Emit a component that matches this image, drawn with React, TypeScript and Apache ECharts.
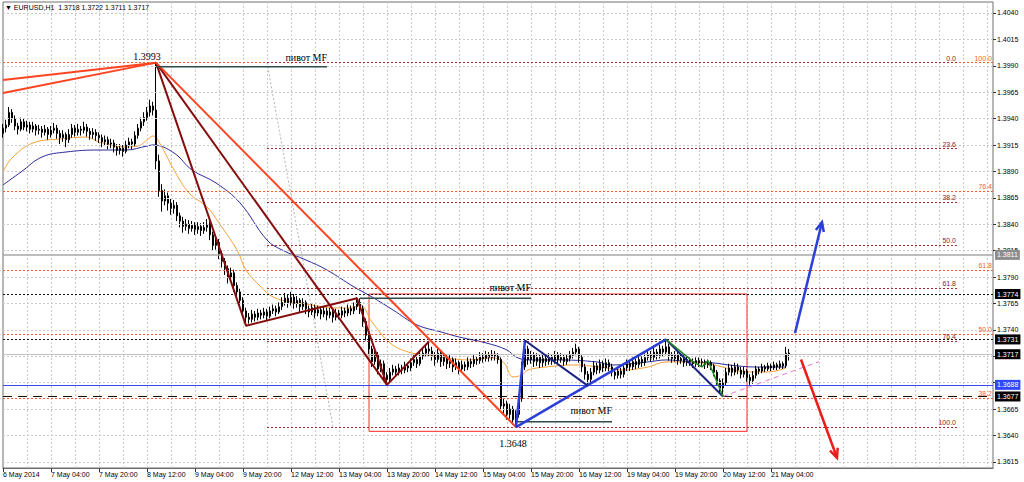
import React, { useEffect, useRef } from 'react';
import * as echarts from 'echarts';

// ---------- data ----------
const SYMBOL = 'EURUSD,H1';
const SLOT_COUNT = 331; // bar slots across the chart (incl. empty shift area)

// [open, close, low, high]
const barsMay6to8 = [
  [1.3926,1.3931,1.3922,1.3935],[1.3931,1.3934,1.3927,1.3939],[1.3934,1.3946,1.3932,1.3951],[1.3946,1.3940,1.3936,1.3949],
  [1.3940,1.3933,1.3929,1.3943],[1.3933,1.3930,1.3925,1.3936],[1.3930,1.3937,1.3928,1.3941],[1.3937,1.3932,1.3929,1.3940],
  [1.3932,1.3934,1.3928,1.3938],[1.3934,1.3930,1.3926,1.3937],[1.3930,1.3933,1.3927,1.3937],[1.3933,1.3929,1.3924,1.3935],
  [1.3929,1.3930,1.3925,1.3934],[1.3930,1.3927,1.3922,1.3933],[1.3927,1.3930,1.3924,1.3934],[1.3930,1.3925,1.3920,1.3932],
  [1.3925,1.3929,1.3922,1.3933],[1.3929,1.3931,1.3926,1.3936],[1.3931,1.3926,1.3921,1.3934],[1.3926,1.3922,1.3916,1.3929],
  [1.3922,1.3925,1.3918,1.3929],[1.3925,1.3920,1.3913,1.3927],[1.3920,1.3925,1.3917,1.3930],[1.3925,1.3931,1.3922,1.3935],
  [1.3931,1.3927,1.3923,1.3934],[1.3927,1.3930,1.3924,1.3935],[1.3930,1.3929,1.3924,1.3933],[1.3929,1.3932,1.3926,1.3937],
  [1.3932,1.3928,1.3923,1.3935],[1.3928,1.3925,1.3920,1.3931],[1.3925,1.3927,1.3921,1.3931],[1.3927,1.3924,1.3919,1.3930],
  [1.3924,1.3922,1.3917,1.3927],[1.3922,1.3918,1.3913,1.3925],[1.3918,1.3920,1.3914,1.3924],[1.3920,1.3916,1.3911,1.3923],
  [1.3916,1.3917,1.3912,1.3921],[1.3917,1.3913,1.3908,1.3920],[1.3913,1.3910,1.3905,1.3916],[1.3910,1.3912,1.3906,1.3916],
  [1.3912,1.3909,1.3904,1.3915],[1.3909,1.3915,1.3907,1.3919],[1.3915,1.3918,1.3912,1.3922],[1.3918,1.3916,1.3911,1.3921],
  [1.3916,1.3924,1.3914,1.3928],[1.3924,1.3931,1.3921,1.3935],[1.3931,1.3937,1.3928,1.3941],[1.3937,1.3941,1.3933,1.3946],
  [1.3941,1.3946,1.3938,1.3951],[1.3946,1.3952,1.3942,1.3958],[1.3952,1.3948,1.3943,1.3956],
];
const barsEcbDrop = [
  [1.3948,1.3900,1.3892,1.3993],[1.3900,1.3872,1.3866,1.3906],[1.3872,1.3862,1.3852,1.3878],[1.3862,1.3867,1.3858,1.3873],
  [1.3867,1.3860,1.3853,1.3870],[1.3860,1.3855,1.3849,1.3864],[1.3855,1.3858,1.3850,1.3863],[1.3858,1.3848,1.3843,1.3861],
  [1.3848,1.3843,1.3837,1.3851],[1.3843,1.3838,1.3832,1.3847],[1.3838,1.3840,1.3834,1.3845],[1.3840,1.3836,1.3831,1.3844],
  [1.3836,1.3839,1.3833,1.3843],[1.3839,1.3835,1.3830,1.3842],[1.3835,1.3838,1.3831,1.3842],[1.3838,1.3834,1.3829,1.3841],
  [1.3834,1.3837,1.3831,1.3842],[1.3837,1.3840,1.3833,1.3845],[1.3840,1.3830,1.3825,1.3843],[1.3830,1.3820,1.3815,1.3833],
  [1.3820,1.3823,1.3816,1.3828],[1.3823,1.3812,1.3807,1.3826],[1.3812,1.3805,1.3799,1.3815],[1.3805,1.3798,1.3792,1.3808],
  [1.3798,1.3790,1.3784,1.3801],[1.3790,1.3794,1.3786,1.3799],[1.3794,1.3782,1.3776,1.3797],[1.3782,1.3776,1.3770,1.3785],
  [1.3776,1.3768,1.3762,1.3779],[1.3768,1.3758,1.3752,1.3771],[1.3758,1.3752,1.3744,1.3761],
];
const barsMay12to13 = [
  [1.3752,1.3750,1.3746,1.3756],[1.3750,1.3755,1.3747,1.3759],[1.3755,1.3752,1.3748,1.3758],[1.3752,1.3756,1.3749,1.3760],
  [1.3756,1.3754,1.3750,1.3759],[1.3754,1.3757,1.3751,1.3761],[1.3757,1.3753,1.3749,1.3760],[1.3753,1.3758,1.3751,1.3762],
  [1.3758,1.3760,1.3755,1.3764],[1.3760,1.3757,1.3753,1.3763],[1.3757,1.3762,1.3755,1.3766],[1.3762,1.3766,1.3759,1.3771],
  [1.3766,1.3770,1.3763,1.3775],[1.3770,1.3766,1.3761,1.3773],[1.3766,1.3771,1.3763,1.3776],[1.3771,1.3765,1.3760,1.3774],
  [1.3765,1.3768,1.3761,1.3772],[1.3768,1.3762,1.3757,1.3770],[1.3762,1.3766,1.3759,1.3770],[1.3766,1.3760,1.3755,1.3768],
  [1.3760,1.3757,1.3752,1.3763],[1.3757,1.3761,1.3754,1.3765],[1.3761,1.3756,1.3751,1.3764],[1.3756,1.3759,1.3753,1.3763],
  [1.3759,1.3755,1.3750,1.3762],[1.3755,1.3758,1.3752,1.3762],[1.3758,1.3754,1.3749,1.3761],[1.3754,1.3757,1.3751,1.3761],
  [1.3757,1.3752,1.3747,1.3760],[1.3752,1.3756,1.3749,1.3760],[1.3756,1.3754,1.3750,1.3759],[1.3754,1.3758,1.3751,1.3762],
  [1.3758,1.3756,1.3752,1.3761],[1.3756,1.3760,1.3753,1.3764],[1.3760,1.3758,1.3754,1.3763],[1.3758,1.3762,1.3755,1.3766],
  [1.3762,1.3766,1.3759,1.3771],[1.3766,1.3760,1.3755,1.3770],
];
const barsMay13to15 = [
  [1.3760,1.3748,1.3743,1.3763],[1.3748,1.3735,1.3730,1.3751],[1.3735,1.3722,1.3717,1.3738],[1.3722,1.3710,1.3705,1.3725],
  [1.3710,1.3716,1.3707,1.3720],[1.3716,1.3703,1.3698,1.3719],[1.3703,1.3708,1.3700,1.3712],[1.3708,1.3697,1.3692,1.3711],
  [1.3697,1.3693,1.3688,1.3700],[1.3693,1.3700,1.3690,1.3704],[1.3700,1.3703,1.3697,1.3707],[1.3703,1.3700,1.3696,1.3706],
  [1.3700,1.3704,1.3697,1.3708],[1.3704,1.3702,1.3698,1.3707],[1.3702,1.3706,1.3699,1.3710],[1.3706,1.3704,1.3700,1.3709],
  [1.3704,1.3709,1.3701,1.3713],[1.3709,1.3712,1.3706,1.3716],[1.3712,1.3708,1.3704,1.3715],[1.3708,1.3715,1.3706,1.3719],
  [1.3715,1.3718,1.3712,1.3722],[1.3718,1.3722,1.3715,1.3726],[1.3722,1.3720,1.3715,1.3729],[1.3720,1.3716,1.3711,1.3724],
  [1.3716,1.3712,1.3706,1.3719],[1.3712,1.3718,1.3709,1.3722],[1.3718,1.3710,1.3705,1.3721],[1.3710,1.3714,1.3706,1.3718],
  [1.3714,1.3708,1.3703,1.3717],[1.3708,1.3712,1.3704,1.3716],[1.3712,1.3705,1.3700,1.3714],[1.3705,1.3709,1.3702,1.3713],
  [1.3709,1.3703,1.3698,1.3711],[1.3703,1.3707,1.3700,1.3711],[1.3707,1.3705,1.3701,1.3710],[1.3705,1.3710,1.3702,1.3714],
  [1.3710,1.3708,1.3704,1.3713],[1.3708,1.3712,1.3705,1.3716],[1.3712,1.3711,1.3707,1.3715],[1.3711,1.3715,1.3708,1.3719],
  [1.3715,1.3713,1.3709,1.3718],[1.3713,1.3716,1.3710,1.3720],[1.3716,1.3714,1.3710,1.3719],[1.3714,1.3717,1.3711,1.3721],
  [1.3717,1.3715,1.3711,1.3720],[1.3715,1.3712,1.3708,1.3718],
];
const barsMay15to16 = [
  [1.3712,1.3668,1.3664,1.3714],[1.3668,1.3670,1.3660,1.3675],[1.3670,1.3660,1.3655,1.3673],[1.3660,1.3665,1.3656,1.3670],
  [1.3665,1.3655,1.3650,1.3668],[1.3655,1.3660,1.3648,1.3664],[1.3660,1.3675,1.3657,1.3679],[1.3675,1.3705,1.3672,1.3710],
  [1.3705,1.3722,1.3702,1.3730],[1.3722,1.3712,1.3707,1.3725],[1.3712,1.3716,1.3708,1.3720],[1.3716,1.3710,1.3705,1.3719],
  [1.3710,1.3714,1.3706,1.3718],[1.3714,1.3709,1.3704,1.3717],[1.3709,1.3713,1.3705,1.3717],[1.3713,1.3710,1.3706,1.3716],
  [1.3710,1.3714,1.3707,1.3718],[1.3714,1.3711,1.3707,1.3717],[1.3711,1.3716,1.3708,1.3720],[1.3716,1.3712,1.3708,1.3719],
  [1.3712,1.3714,1.3709,1.3718],[1.3714,1.3710,1.3706,1.3717],[1.3710,1.3713,1.3707,1.3717],[1.3713,1.3716,1.3710,1.3720],
  [1.3716,1.3719,1.3713,1.3723],[1.3719,1.3722,1.3716,1.3727],[1.3722,1.3714,1.3709,1.3724],[1.3714,1.3705,1.3700,1.3716],
  [1.3705,1.3698,1.3693,1.3708],[1.3698,1.3693,1.3687,1.3701],[1.3693,1.3700,1.3690,1.3704],[1.3700,1.3706,1.3697,1.3710],
  [1.3706,1.3702,1.3698,1.3709],[1.3702,1.3708,1.3699,1.3712],[1.3708,1.3704,1.3700,1.3711],
];
const barsMay19to21 = [
  [1.3704,1.3709,1.3701,1.3713],[1.3709,1.3705,1.3701,1.3712],[1.3705,1.3700,1.3696,1.3708],[1.3700,1.3697,1.3693,1.3703],
  [1.3697,1.3701,1.3694,1.3705],[1.3701,1.3698,1.3694,1.3704],[1.3698,1.3704,1.3695,1.3708],[1.3704,1.3708,1.3701,1.3712],
  [1.3708,1.3705,1.3701,1.3711],[1.3705,1.3710,1.3702,1.3714],[1.3710,1.3707,1.3703,1.3713],[1.3707,1.3712,1.3704,1.3716],
  [1.3712,1.3709,1.3705,1.3715],[1.3709,1.3714,1.3706,1.3718],[1.3714,1.3717,1.3711,1.3721],[1.3717,1.3714,1.3710,1.3720],
  [1.3714,1.3719,1.3711,1.3723],[1.3719,1.3716,1.3712,1.3722],[1.3716,1.3722,1.3713,1.3726],[1.3722,1.3719,1.3715,1.3725],
  [1.3719,1.3724,1.3716,1.3731],[1.3724,1.3716,1.3711,1.3727],[1.3716,1.3713,1.3709,1.3719],[1.3713,1.3716,1.3710,1.3720],
  [1.3716,1.3711,1.3707,1.3719],[1.3711,1.3713,1.3708,1.3717],[1.3713,1.3709,1.3705,1.3716],[1.3709,1.3712,1.3706,1.3715],
  [1.3712,1.3710,1.3706,1.3714],[1.3710,1.3708,1.3704,1.3713],[1.3708,1.3711,1.3705,1.3714],[1.3711,1.3709,1.3705,1.3714],
  [1.3709,1.3710,1.3706,1.3713],[1.3710,1.3707,1.3703,1.3712],[1.3707,1.3709,1.3704,1.3712],[1.3709,1.3706,1.3702,1.3711],
  [1.3706,1.3700,1.3696,1.3708],[1.3700,1.3692,1.3688,1.3702],[1.3692,1.3685,1.3680,1.3694],[1.3685,1.3690,1.3677,1.3694],
  [1.3690,1.3700,1.3687,1.3704],[1.3700,1.3704,1.3697,1.3708],[1.3704,1.3700,1.3696,1.3707],[1.3700,1.3705,1.3697,1.3709],
  [1.3705,1.3702,1.3698,1.3708],[1.3702,1.3698,1.3694,1.3705],[1.3698,1.3701,1.3695,1.3705],[1.3701,1.3695,1.3691,1.3703],
  [1.3695,1.3692,1.3688,1.3698],[1.3692,1.3697,1.3689,1.3701],[1.3697,1.3703,1.3694,1.3706],[1.3703,1.3701,1.3698,1.3705],
  [1.3701,1.3705,1.3699,1.3708],[1.3705,1.3703,1.3700,1.3707],[1.3703,1.3706,1.3701,1.3709],[1.3706,1.3704,1.3701,1.3708],
  [1.3704,1.3707,1.3702,1.3710],[1.3707,1.3705,1.3702,1.3709],[1.3705,1.3708,1.3703,1.3711],[1.3708,1.3706,1.3703,1.3710],
  [1.3706,1.3718,1.3704,1.3724],[1.3718,1.3717,1.3711,1.3722],
];

const timeLabels = [
  '6 May 2014', '7 May 04:00', '7 May 20:00', '8 May 12:00', '9 May 04:00', '9 May 20:00',
  '12 May 12:00', '13 May 04:00', '13 May 20:00', '14 May 12:00', '15 May 04:00', '15 May 20:00',
  '16 May 12:00', '19 May 04:00', '19 May 20:00', '20 May 12:00', '21 May 04:00',
];
const LABEL_STEP = 16;
const GRID_STEP = 8;

const priceTicks = [
  1.3615, 1.3640, 1.3665, 1.3690, 1.3715, 1.3740, 1.3765, 1.3790, 1.3815,
  1.3840, 1.3865, 1.3890, 1.3915, 1.3940, 1.3965, 1.3990, 1.4015, 1.4040,
];
// tick labels hidden behind the price boxes in the reference
const coveredTickLabels = [1.3690, 1.3715];
const Y_MIN = 1.36093;
const Y_MAX = 1.40504;

// moving averages: [bar index, price]
const maFast = [
  [0,1.38895],[3,1.39028],[10,1.3917],[19,1.39207],[28,1.39226],[32,1.39179],[41,1.39132],[45,1.39141],
  [48,1.39198],[50,1.39236],[52,1.39179],[57,1.38914],[62,1.38696],[68,1.38564],[72,1.38412],[78,1.38157],
  [81,1.37967],[86,1.37807],[90,1.37712],[96,1.37665],[103,1.37636],[110,1.37608],[116,1.37608],[119,1.37636],
  [123,1.37475],[129,1.37277],[135,1.37191],[141,1.37163],[148,1.37135],[155,1.37116],[163,1.37135],[167,1.37087],
  [170,1.36955],[173,1.36974],[175,1.37021],[181,1.37049],[190,1.37068],[199,1.37049],[207,1.37021],[215,1.37049],
  [221,1.37097],[229,1.37097],[237,1.37068],[241,1.3704],[248,1.37002],[255,1.37002],[261,1.3704],
];
const maSlow = [
  [0,1.38772],[6,1.38895],[13,1.39037],[21,1.39084],[32,1.39103],[41,1.39103],[48,1.39141],[50,1.39151],
  [57,1.39075],[63,1.38914],[71,1.38791],[79,1.38602],[88,1.38251],[93,1.38157],[101,1.38062],[108,1.37967],
  [117,1.37807],[123,1.37712],[130,1.37589],[138,1.37447],[146,1.37381],[152,1.37333],[161,1.37277],[168,1.3721],
  [171,1.37144],[175,1.37116],[185,1.37116],[198,1.37097],[203,1.37068],[215,1.37097],[221,1.37116],[229,1.37097],
  [237,1.37087],[242,1.37068],[251,1.37049],[261,1.37049],
];

// Fibonacci tools
const FIB_A_HIGH = 1.3993;
const FIB_A_LOW = 1.3479;
const fibARatios = [100, 76.4, 61.8, 50, 38.2];
const FIB_B_HIGH = 1.3993;
const FIB_B_LOW = 1.3648;
const fibBRatios = [0, 23.6, 38.2, 50, 61.8, 76.4, 100];
const fibBSpan = [88, 318];
const fibBaseDiag = [[88, 1.3993], [110, 1.3648]];

// horizontal levels (shown with price boxes on the axis)
const levelPrices = [1.3811, 1.3774, 1.3731, 1.3717, 1.3688, 1.3677];

// trend / wave drawings: [bar index, price]
const fanLeftUpper = [[0, 1.39766], [51, 1.3993]];
const fanLeftLower = [[0, 1.39643], [51, 1.3993]];
const fanMaroon = [[51, 1.3993], [128, 1.3688]];
const zigzagMaroon = [[51, 1.3993], [81, 1.3744], [118, 1.3770], [128, 1.3688], [142, 1.3729]];
const fanRed = [[51, 1.3993], [171, 1.3648]];
const blueImpulse = [[171, 1.3648], [174, 1.3730]];
const blueTrend = [[171, 1.3648], [221, 1.3731]];
const navyLegA = [[174, 1.3730], [195, 1.3687]];
const navyLegB = [[221, 1.3731], [240, 1.3677]];
const greenWave = [[221, 1.3731], [230, 1.3710], [233, 1.3705], [235, 1.3711], [240, 1.3677]];
const pinkTrend = [[240, 1.3677], [272, 1.3710]];
const pivotLines = [
  [[51, 1.3989], [108, 1.3989]],
  [[119, 1.3770], [176, 1.3770]],
  [[171, 1.3653], [203, 1.3653]],
];
const boxCorners = [[122, 1.3774], [248, 1.3644]];
const arrowStarts = [[264, 1.3737], [266, 1.3712]];
const arrowEnds = [[273, 1.3842], [278, 1.3619]];
const noteTexts = ['1.3993', '1.3648', 'пивот MF', 'пивот MF', 'пивот MF'];
const noteAnchors = [[48, 1.3994], [170, 1.3637], [108, 1.3993], [176, 1.3775], [203, 1.3659]];

// ---------- styling ----------
const FONT = "'Liberation Sans', Arial, sans-serif";
const SERIF = "'Liberation Serif', 'Times New Roman', serif";
const levelStyles = [
  { color: '#a9a9a9', type: 'solid', width: 1.5, box: '#8d8d8d' },
  { color: '#111111', type: [2, 2], width: 1, box: '#000000' },
  { color: '#111111', type: [2, 2], width: 1, box: '#000000' },
  { color: '#c4c4c4', type: 'solid', width: 1, box: '#000000' },
  { color: '#3b4df2', type: 'solid', width: 1.2, box: '#2f47ff' },
  { color: '#111111', type: [9, 6], width: 1, box: '#000000' },
];
const noteStyles = [
  { align: 'center', verticalAlign: 'bottom' },
  { align: 'center', verticalAlign: 'top' },
  { align: 'right', verticalAlign: 'bottom' },
  { align: 'right', verticalAlign: 'bottom' },
  { align: 'right', verticalAlign: 'bottom' },
];
const arrowColors = ['#2c3fd8', '#ee1b1b'];

const candles = [
  ...barsMay6to8, ...barsEcbDrop, ...barsMay12to13, ...barsMay13to15, ...barsMay15to16, ...barsMay19to21,
];
const slots = Array.from({ length: SLOT_COUNT }, (_, i) => String(i));
const lastBar = candles[candles.length - 1];
const titleText = `\u25BC ${SYMBOL}  ${lastBar[0].toFixed(4)} ${lastBar[3].toFixed(4)} ${lastBar[2].toFixed(4)} ${lastBar[1].toFixed(4)}`;
const labelTicks = priceTicks.filter((v) => !coveredTickLabels.includes(v));

const fmt = (v: number) => v.toFixed(4);

function seg(data: number[][], color: string, width: number, z: number, type: any = 'solid', smooth: any = false) {
  return {
    type: 'line', data, symbol: 'none', showSymbol: false, silent: true, z, smooth,
    lineStyle: { color, width, type }, animation: false,
  };
}

function buildOption() {
  const fibAData = fibARatios.map((r) => ({
    name: r.toFixed(1),
    yAxis: FIB_A_LOW + (FIB_A_HIGH - FIB_A_LOW) * r / 100,
  }));
  const fibBData = fibBRatios.map((r) => {
    const p = FIB_B_HIGH - (FIB_B_HIGH - FIB_B_LOW) * r / 100;
    return [{ name: r.toFixed(1), coord: [fibBSpan[0], p] }, { coord: [fibBSpan[1], p] }];
  });
  const levelData = levelPrices.map((p, i) => ({
    yAxis: p,
    lineStyle: { color: levelStyles[i].color, type: levelStyles[i].type, width: levelStyles[i].width },
    label: {
      show: true, position: 'end', distance: 2, formatter: fmt(p),
      backgroundColor: levelStyles[i].box, color: '#ffffff', fontSize: 7, fontFamily: FONT,
      padding: [2, 2, 1, 2],
    },
  }));

  const series: any[] = [
    // horizontal grid lines
    {
      type: 'line', data: [], silent: true, z: 0,
      markLine: {
        silent: true, symbol: ['none', 'none'], animation: false, precision: 6, label: { show: false },
        lineStyle: { color: '#cacaca', type: [2, 2], width: 1 },
        data: priceTicks.map((v) => ({ yAxis: v })),
      },
    },
    // fib A (full width)
    {
      type: 'line', data: [], silent: true, z: 1,
      markLine: {
        silent: true, symbol: ['none', 'none'], animation: false, precision: 6,
        lineStyle: { color: '#ff5a30', type: [2, 2], width: 1 },
        label: { show: true, position: 'insideEndTop', formatter: '{b}', color: '#ff5a30', fontSize: 7, fontFamily: FONT, distance: 1 },
        data: fibAData,
      },
    },
    // fib B
    {
      type: 'line', data: [], silent: true, z: 1,
      markLine: {
        silent: true, symbol: ['none', 'none'], animation: false, precision: 6,
        lineStyle: { color: '#a5282d', type: [2, 2], width: 1 },
        label: { show: true, position: 'insideEndTop', formatter: '{b}', color: '#8b1a1f', fontSize: 7, fontFamily: FONT, distance: 1 },
        data: fibBData,
      },
    },
    // levels
    {
      type: 'line', data: [], silent: true, z: 2,
      markLine: { silent: true, symbol: ['none', 'none'], animation: false, precision: 6, data: levelData },
    },
    // rectangle
    {
      type: 'line', data: [], silent: true, z: 2,
      markArea: {
        silent: true,
        itemStyle: { color: 'rgba(0,0,0,0)', borderColor: '#ff2a2a', borderWidth: 1 },
        data: [[{ coord: boxCorners[0] }, { coord: boxCorners[1] }]],
      },
    },
    seg(fibBaseDiag, '#b4b4b4', 1, 2, [2, 2]),
    seg(maSlow, '#2b2b9c', 1, 3, 'solid', 0.4),
    seg(maFast, '#f6a136', 1, 3, 'solid', 0.4),
    {
      type: 'candlestick', data: candles, barWidth: 2, z: 4, silent: true,
      itemStyle: { color: '#ffffff', color0: '#000000', borderColor: '#000000', borderColor0: '#000000', borderWidth: 1 },
    },
    seg(fanLeftUpper, '#ff4422', 2, 5),
    seg(fanLeftLower, '#ff4422', 2, 5),
    seg(fanMaroon, '#850d0d', 2, 5),
    seg(zigzagMaroon, '#850d0d', 2, 5),
    seg(fanRed, '#ff4422', 2, 5),
    ...pivotLines.map((pl) => seg(pl, '#2d4b4a', 1.5, 5)),
    seg(blueTrend, '#2c3fd8', 2.5, 5),
    seg(blueImpulse, '#2c3fd8', 2.5, 5),
    seg(navyLegA, '#1c2380', 2, 5),
    seg(navyLegB, '#1c2380', 2, 5),
    seg(greenWave, '#238a1f', 1.5, 6),
    seg(pinkTrend, '#e278cc', 1, 5, [5, 4]),
    {
      type: 'custom', coordinateSystem: 'cartesian2d', silent: true, z: 7,
      data: arrowStarts.map((s) => [s[0], s[1]]),
      renderItem: (params: any, api: any) => {
        const i = params.dataIndex;
        const p1 = api.coord(arrowStarts[i]);
        const p2 = api.coord(arrowEnds[i]);
        const ang = Math.atan2(p2[1] - p1[1], p2[0] - p1[0]);
        const L = 10, spread = 0.42;
        const h1 = [p2[0] - L * Math.cos(ang - spread), p2[1] - L * Math.sin(ang - spread)];
        const h2 = [p2[0] - L * Math.cos(ang + spread), p2[1] - L * Math.sin(ang + spread)];
        const c = arrowColors[i];
        return {
          type: 'group',
          children: [
            { type: 'line', shape: { x1: p1[0], y1: p1[1], x2: p2[0], y2: p2[1] }, style: { stroke: c, lineWidth: 2.5 } },
            { type: 'polyline', shape: { points: [h1, p2, h2] }, style: { stroke: c, lineWidth: 2.5, fill: null } },
          ],
        };
      },
    },
    {
      type: 'custom', coordinateSystem: 'cartesian2d', silent: true, z: 7,
      data: noteAnchors.map((a) => [a[0], a[1]]),
      renderItem: (params: any, api: any) => {
        const i = params.dataIndex;
        const p = api.coord(noteAnchors[i]);
        return {
          type: 'text', x: p[0], y: p[1],
          style: {
            text: noteTexts[i], fill: '#000000', font: `10px ${SERIF}`,
            align: noteStyles[i].align, verticalAlign: noteStyles[i].verticalAlign,
          },
        };
      },
    },
  ];

  return {
    animation: false,
    backgroundColor: '#ffffff',
    grid: { left: 3, right: 31, top: 2, bottom: 14, show: true, borderColor: '#6e6e6e', borderWidth: 1, backgroundColor: 'transparent' },
    graphic: [
      { type: 'text', left: 5, top: 4, z: 10, style: { text: titleText, font: `7px ${FONT}`, fill: '#000000' } },
    ],
    xAxis: {
      type: 'category', data: slots, boundaryGap: false,
      axisLine: { show: true, lineStyle: { color: '#6e6e6e', width: 1 } },
      axisTick: {
        show: true, length: 4, lineStyle: { color: '#333333' },
        interval: (idx: number) => idx % LABEL_STEP === 0 && idx / LABEL_STEP < timeLabels.length,
      },
      axisLabel: {
        show: true, margin: 3, fontSize: 7, fontFamily: FONT, color: '#000000', align: 'left',
        interval: (idx: number) => idx % LABEL_STEP === 0 && idx / LABEL_STEP < timeLabels.length,
        formatter: (val: string) => timeLabels[Number(val) / LABEL_STEP] || '',
      },
      splitLine: {
        show: true, interval: (idx: number) => idx % GRID_STEP === 0 && idx > 0,
        lineStyle: { color: '#cacaca', type: [2, 2], width: 1 },
      },
    },
    yAxis: {
      type: 'value', position: 'right', min: Y_MIN, max: Y_MAX,
      axisLine: { show: false },
      splitLine: { show: false },
      axisTick: { show: true, length: 3, lineStyle: { color: '#333333' }, customValues: priceTicks },
      axisLabel: {
        show: true, margin: 4, fontSize: 7, fontFamily: FONT, color: '#000000',
        customValues: labelTicks, formatter: (v: number) => fmt(v),
      },
    },
    series,
  };
}

export default function App() {
  const ref = useRef<HTMLDivElement>(null);
  useEffect(() => {
    document.body.style.margin = '0';
    const chart = echarts.init(ref.current as HTMLDivElement, undefined, { renderer: 'svg' });
    chart.setOption(buildOption() as any);
    return () => chart.dispose();
  }, []);
  return <div ref={ref} style={{ width: 1024, height: 482, background: '#ffffff' }} />;
}
